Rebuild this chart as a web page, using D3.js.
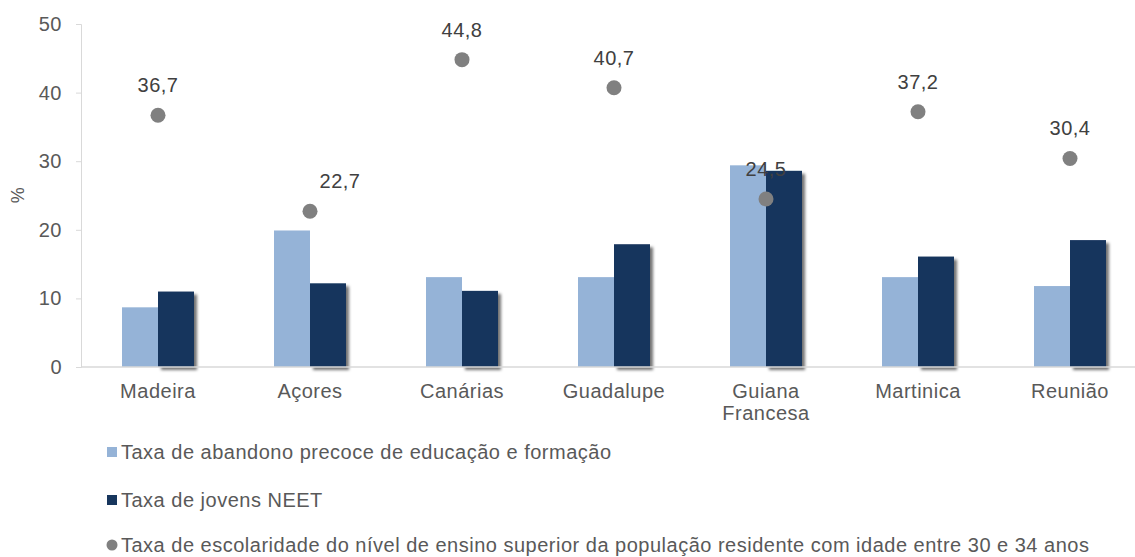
<!DOCTYPE html>
<html>
<head>
<meta charset="utf-8">
<script src="https://cdn.jsdelivr.net/npm/d3@7"></script>
<style>
  body { margin: 0; background: #fff; }
  svg text { font-family: "Liberation Sans", Arial, sans-serif; letter-spacing: 0.5px; }
</style>
</head>
<body>
<div id="chart"></div>
<script>
const regions = ["Madeira", "Açores", "Canárias", "Guadalupe", "Guiana Francesa", "Martinica", "Reunião"];
const abandono = [8.7, 19.9, 13.1, 13.1, 29.4, 13.1, 11.8];
const neet = [11.0, 12.2, 11.1, 17.9, 28.6, 16.1, 18.5];
const superior = [36.7, 22.7, 44.8, 40.7, 24.5, 37.2, 30.4];
const yTicks = [0, 10, 20, 30, 40, 50];
const legendLabels = [
  "Taxa de abandono precoce de educação e formação",
  "Taxa de jovens NEET",
  "Taxa de escolaridade do nível de ensino superior da população residente com idade entre 30 e 34 anos"
];

const width = 1135;
const height = 557;
const light = "#95b3d7";
const dark = "#17365d";
const dotColor = "#808080";

const svg = d3.select("#chart").append("svg")
  .attr("width", width)
  .attr("height", height);

// shadow for the dark bars
const defs = svg.append("defs");
const f = defs.append("filter").attr("id", "shadow")
  .attr("x", "-20%").attr("y", "-20%").attr("width", "160%").attr("height", "140%");
f.append("feDropShadow").attr("dx", 3).attr("dy", 3).attr("stdDeviation", 1.5)
  .attr("flood-color", "#000").attr("flood-opacity", 0.55);

const x = d3.scaleBand().domain(regions).range([82, 1146]);
const y = d3.scaleLinear().domain([0, 50]).range([367, 24]);
const barW = 36;

// y axis
const yAxis = svg.append("g").attr("transform", "translate(81,0)")
  .call(d3.axisLeft(y).tickValues(yTicks).tickSize(5).tickPadding(14));
yAxis.select(".domain").attr("stroke", "#d9d9d9");
yAxis.selectAll(".tick line").attr("stroke", "#d9d9d9");
yAxis.selectAll(".tick text").attr("fill", "#595959").style("font-size", "20px");

svg.append("text")
  .attr("transform", "translate(24,195) rotate(-90)")
  .attr("text-anchor", "middle")
  .attr("fill", "#595959")
  .style("font-size", "18px")
  .text("%");

// bars
const groups = svg.append("g").selectAll("g")
  .data(regions)
  .join("g");

groups.append("rect")
  .attr("x", d => x(d) + x.bandwidth() / 2 - barW)
  .attr("y", (d, i) => y(abandono[i]))
  .attr("width", barW)
  .attr("height", (d, i) => y(0) - y(abandono[i]))
  .attr("fill", light);

groups.append("rect")
  .attr("x", d => x(d) + x.bandwidth() / 2)
  .attr("y", (d, i) => y(neet[i]))
  .attr("width", barW)
  .attr("height", (d, i) => y(0) - y(neet[i]))
  .attr("fill", dark)
  .attr("filter", "url(#shadow)");

// x axis line
svg.append("line")
  .attr("x1", 81).attr("x2", width)
  .attr("y1", y(0)).attr("y2", y(0))
  .attr("stroke", "#d9d9d9").attr("stroke-width", 1.5);

// category labels
const xl = svg.append("g").selectAll("text")
  .data(regions)
  .join("text")
  .attr("x", d => x(d) + x.bandwidth() / 2)
  .attr("y", 398)
  .attr("text-anchor", "middle")
  .attr("fill", "#595959")
  .style("font-size", "20px");
xl.each(function (d) {
  const words = d === "Guiana Francesa" ? ["Guiana", "Francesa"] : [d];
  const t = d3.select(this);
  words.forEach((w, k) => {
    t.append("tspan").attr("x", t.attr("x")).attr("dy", k === 0 ? 0 : 22).text(w);
  });
});

// dots
svg.append("g").selectAll("circle")
  .data(regions)
  .join("circle")
  .attr("cx", d => x(d) + x.bandwidth() / 2)
  .attr("cy", (d, i) => y(superior[i]))
  .attr("r", 7.5)
  .attr("fill", dotColor);

svg.append("g").selectAll("text")
  .data(regions)
  .join("text")
  .attr("x", d => x(d) + x.bandwidth() / 2 + (d === "Açores" ? 30 : 0))
  .attr("y", (d, i) => y(superior[i]) - 23)
  .attr("text-anchor", "middle")
  .attr("fill", "#404040")
  .style("font-size", "20px")
  .text((d, i) => d3.format(".1f")(superior[i]).replace(".", ","));

// legend
const legend = svg.append("g");
const ly = [452, 500, 545];
legendLabels.forEach((lab, i) => {
  if (i < 2) {
    legend.append("rect")
      .attr("x", 107).attr("y", ly[i] - 5)
      .attr("width", 10).attr("height", 10)
      .attr("fill", i === 0 ? light : dark);
  } else {
    legend.append("circle")
      .attr("cx", 112).attr("cy", ly[i])
      .attr("r", 5.5).attr("fill", dotColor);
  }
  legend.append("text")
    .attr("x", 121).attr("y", ly[i])
    .attr("dy", "0.35em")
    .attr("fill", "#595959")
    .style("font-size", "20px")
    .text(lab);
});
</script>
</body>
</html>
